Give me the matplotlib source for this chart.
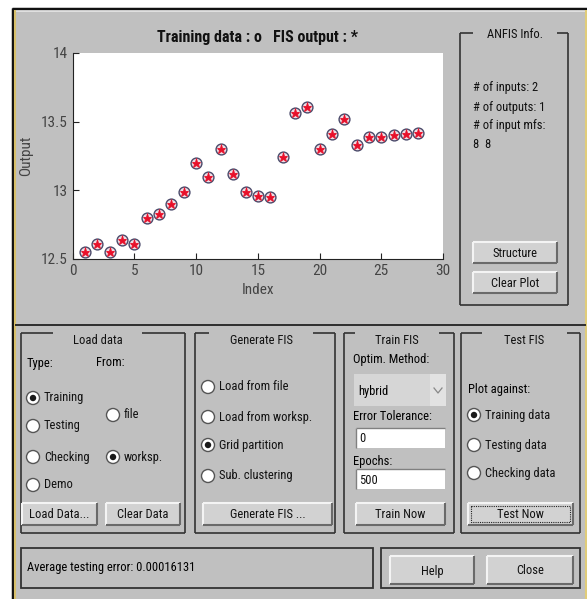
import matplotlib
matplotlib.use("Agg")
import matplotlib.pyplot as plt
from matplotlib.patches import Rectangle, Circle
from matplotlib import font_manager

# --- ANFIS session data ---
sample_index = list(range(1, 29))
training_output = [12.55, 12.61, 12.55, 12.64, 12.61, 12.80, 12.83, 12.90, 12.99, 13.20,
                   13.10, 13.30, 13.12, 12.99, 12.96, 12.95, 13.24, 13.56, 13.61, 13.30,
                   13.41, 13.52, 13.33, 13.39, 13.39, 13.40, 13.41, 13.42]
fis_output = [12.55, 12.61, 12.55, 12.64, 12.61, 12.80, 12.83, 12.90, 12.99, 13.20,
              13.10, 13.30, 13.12, 12.99, 12.96, 12.95, 13.24, 13.56, 13.61, 13.30,
              13.41, 13.52, 13.33, 13.39, 13.39, 13.40, 13.41, 13.42]
x_ticks = [0, 5, 10, 15, 20, 25, 30]
y_ticks = [12.5, 13, 13.5, 14]
y_tick_labels = ["12.5", "13", "13.5", "14"]

n_inputs = 2
n_outputs = 1
input_mfs = [8, 8]
optim_method = "hybrid"
error_tolerance = 0
epochs = 500
avg_test_error = 0.00016131

# narrow UI font if one is around
available = {f.name for f in font_manager.fontManager.ttflist}
UI_FONT = "Liberation Sans"
for cand in ["Liberation Sans Narrow", "Roboto Condensed", "Open Sans Condensed", "Arial Narrow"]:
    if cand in available:
        UI_FONT = cand
        break
plt.rcParams["font.family"] = [UI_FONT, "DejaVu Sans"]

BG = "#c0c0c0"
BTN = "#d2d2d2"
LINE = "#333333"
FS = 9

W, H = 587, 599
fig = plt.figure(figsize=(W / 100, H / 100), dpi=100)
fig.patch.set_facecolor("white")

# full-window axes in pixel units (y down)
ui = fig.add_axes([0, 0, 1, 1])
ui.set_xlim(0, W)
ui.set_ylim(H, 0)
ui.axis("off")


def hline(x0, x1, y, color=LINE, lw=1.2, **kw):
    ui.plot([x0, x1], [y, y], color=color, lw=lw, solid_capstyle="butt", **kw)


def vline(x, y0, y1, color=LINE, lw=1.2, **kw):
    ui.plot([x, x], [y0, y1], color=color, lw=lw, solid_capstyle="butt", **kw)


def groupbox(x0, y0, x1, y1, title, g0, g1, ty=None):
    hline(x0, g0, y0)
    hline(g1, x1, y0)
    hline(x0, x1, y1)
    vline(x0, y0, y1)
    vline(x1, y0, y1)
    ui.text((g0 + g1) / 2, y0 + 4 if ty is None else ty, title, ha="center", va="center",
            fontsize=FS, color="#111111")


def button(x0, y0, x1, y1, label, focus=False):
    ui.add_patch(Rectangle((x0, y0), x1 - x0, y1 - y0, fc=BTN, ec="none"))
    hline(x0, x1, y0, color="#f4f4f4", lw=1.5)
    vline(x0, y0, y1, color="#f4f4f4", lw=1.5)
    hline(x0, x1, y1, color="#6a6a6a", lw=1.5)
    vline(x1, y0, y1, color="#6a6a6a", lw=1.5)
    if focus:
        ui.add_patch(Rectangle((x0 + 3, y0 + 3), x1 - x0 - 6, y1 - y0 - 6, fc="none",
                               ec="#222222", lw=0.8, ls=(0, (1, 1))))
    ui.text((x0 + x1) / 2, (y0 + y1) / 2 + 1, label, ha="center", va="center",
            fontsize=FS, color="#111111")


def radio(cx, cy, label, selected=False):
    ui.add_patch(Circle((cx, cy), 6.5, fc="white", ec="#555555", lw=1.0))
    if selected:
        ui.add_patch(Circle((cx, cy), 3.2, fc="#1a1a1a", ec="none"))
    ui.text(cx + 11, cy, label, ha="left", va="center", fontsize=FS, color="#111111")


def editbox(x0, y0, x1, y1, value):
    ui.add_patch(Rectangle((x0, y0), x1 - x0, y1 - y0, fc="white", ec="none"))
    hline(x0, x1, y0, color="#808080", lw=1)
    vline(x0, y0, y1, color="#808080", lw=1)
    ui.text(x0 + 3, (y0 + y1) / 2 + 1, value, ha="left", va="center", fontsize=FS,
            color="#111111")


# window frame
ui.add_patch(Rectangle((12, 8), W - 12, H - 8, fc=BG, ec="none"))
hline(12, W, 8.5, color="#111111", lw=2.5)
hline(15, 585, 11, color="#f0f0f0", lw=1.2)
vline(12.5, 8, H, color="#111111", lw=2.5)
vline(15, 10, H, color="#d8c06a", lw=1.5)
vline(586, 10, H, color="#e0cc7a", lw=1.5)
hline(15, 586, 325, color="#222222", lw=1.3)

# ANFIS info panel
groupbox(460, 33, 568, 305, "ANFIS Info.", 473, 557, ty=34)
info_lines = [f"# of inputs: {n_inputs}", f"# of outputs: {n_outputs}",
              "# of input mfs:", "  ".join(str(m) for m in input_mfs)]
for line, y in zip(info_lines, [88, 107, 125, 145]):
    ui.text(473, y, line, ha="left", va="center", fontsize=FS, color="#111111")
button(473, 242, 557, 263, "Structure")
button(473, 272, 557, 293, "Clear Plot")

# Load data
groupbox(21, 333, 185, 533, "Load data", 53, 142, ty=340)
ui.text(27, 363, "Type:", ha="left", va="center", fontsize=FS)
ui.text(96, 363, "From:", ha="left", va="center", fontsize=FS)
radio(33, 398, "Training", True)
radio(33, 426, "Testing")
radio(33, 457, "Checking")
radio(33, 485, "Demo")
radio(113, 415, "file")
radio(113, 457, "worksp.", True)
button(22, 503, 97, 525, "Load Data...")
button(106, 503, 180, 525, "Clear Data")

# Generate FIS
groupbox(195, 333, 335, 533, "Generate FIS", 209, 313, ty=340)
radio(208, 387, "Load from file")
radio(208, 417, "Load from worksp.")
radio(208, 445, "Grid partition", True)
radio(208, 476, "Sub. clustering")
button(203, 503, 332, 525, "Generate FIS ...")

# Train FIS
groupbox(344, 333, 454, 533, "Train FIS", 355, 439, ty=340)
ui.text(353, 359, "Optim. Method:", ha="left", va="center", fontsize=FS)
ui.add_patch(Rectangle((354, 374), 92, 32, fc="#d6d6d6", ec="none"))
ui.add_patch(Rectangle((430, 374), 16, 32, fc="#e2e2e2", ec="none"))
ui.plot([434, 438, 442], [388, 393, 388], color="#888888", lw=0.9)
ui.text(358, 391, optim_method, ha="left", va="center", fontsize=FS)
ui.text(353, 417, "Error Tolerance:", ha="left", va="center", fontsize=FS)
editbox(356, 428, 445, 448, str(error_tolerance))
ui.text(353, 461, "Epochs:", ha="left", va="center", fontsize=FS)
editbox(356, 469, 445, 489, str(epochs))
button(356, 503, 445, 525, "Train Now")

# Test FIS
groupbox(461, 333, 580, 533, "Test FIS", 482, 567, ty=340)
ui.text(468, 390, "Plot against:", ha="left", va="center", fontsize=FS)
radio(474, 415, "Training data", True)
radio(474, 445, "Testing data")
radio(474, 473, "Checking data")
button(468, 503, 573, 525, "Test Now", focus=True)

# status bar
ui.add_patch(Rectangle((21, 548), 352, 40, fc="none", ec=LINE, lw=1.3))
ui.text(27, 568, f"Average testing error: {avg_test_error:.8f}", ha="left", va="center",
        fontsize=FS)
ui.add_patch(Rectangle((381, 548), 199, 40, fc="none", ec=LINE, lw=1.3))
button(390, 556, 474, 584, "Help")
button(487, 556, 573, 584, "Close")

# training data vs FIS output plot
ax = fig.add_axes([72.7 / W, 1 - 259 / H, (443 - 72.7) / W, (259 - 53) / H])
ax.set_facecolor("white")
ax.plot(sample_index, training_output, "o", ms=7.8, mfc="#f0dde4", mec="#4a4a6a", mew=1.0,
        clip_on=False)
ax.plot(sample_index, fis_output, "*", ms=6.5, color="#e8102a", mew=0.6, clip_on=False)
ax.set_xlim(0, 30)
ax.set_ylim(12.5, 14)
ax.set_xticks(x_ticks)
ax.set_yticks(y_ticks)
ax.set_yticklabels(y_tick_labels)
ax.tick_params(direction="in", length=4, width=0.8, labelsize=11, colors="#222222",
               labelcolor="#444444")
for side in ["top", "right"]:
    ax.spines[side].set_visible(False)
for side in ["left", "bottom"]:
    ax.spines[side].set_color("#222222")
    ax.spines[side].set_linewidth(0.8)
ax.set_xlabel("Index", fontsize=11, color="#444444", labelpad=4)
ax.set_ylabel("Output", fontsize=11, color="#444444", labelpad=6)
ax.set_title("Training data : o   FIS output : *", fontsize=11.5, fontweight="bold",
             color="#111111", pad=8)

fig.savefig("out.png", dpi=100, facecolor=fig.get_facecolor())
